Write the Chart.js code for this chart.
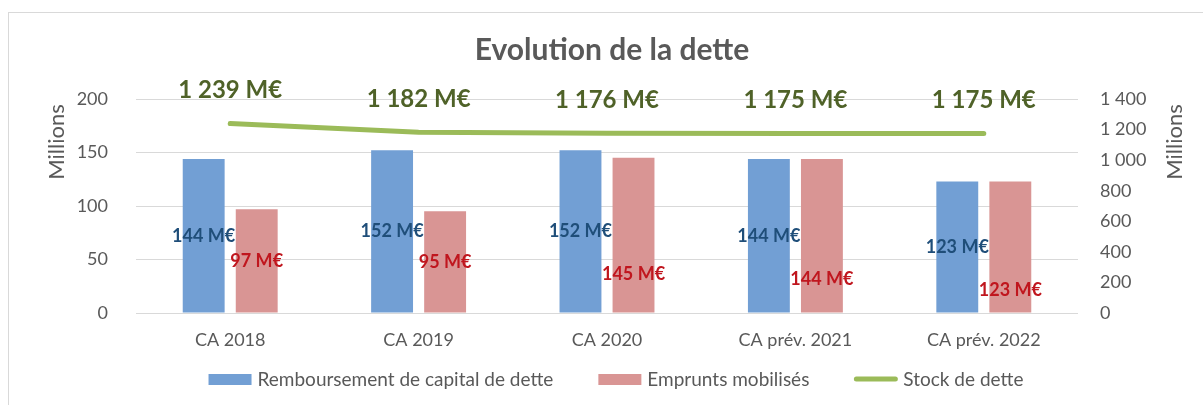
<!DOCTYPE html>
<html>
<head>
<meta charset="utf-8">
<script src="https://cdn.jsdelivr.net/npm/chart.js@4.4.1/dist/chart.umd.min.js"></script>
<style>
  html, body { margin: 0; background: #fff; }
  canvas { display: block; }
</style>
</head>
<body>
<canvas id="chart" width="1203" height="405"></canvas>
<script>
// données du graphique
const categories = ['CA 2018', 'CA 2019', 'CA 2020', 'CA prév. 2021', 'CA prév. 2022'];
const remboursement = [144, 152, 152, 144, 123];
const emprunts = [97, 95, 145, 144, 123];
const stock = [1239, 1182, 1176, 1175, 1175];
const seriesNames = ['Remboursement de capital de dette', 'Emprunts mobilisés', 'Stock de dette'];
const leftTicks = [0, 50, 100, 150, 200];
const rightTicks = [0, 200, 400, 600, 800, 1000, 1200, 1400];

const GREY = '#595959';
const fmt = n => String(n).replace(/\B(?=(\d{3})+(?!\d))/g, ' ');

// titre, cadre, titres d'axes, légende
const decor = {
    id: 'decor',
    beforeDraw(chart) {
        const ctx = chart.ctx;
        ctx.save();
        ctx.strokeStyle = '#D9D9D9';
        ctx.lineWidth = 1;
        ctx.strokeRect(8.5, 12.5, 1400, 600);
        ctx.restore();
    },
    afterDraw(chart) {
        const ctx = chart.ctx;
        ctx.save();
        ctx.fillStyle = GREY;
        ctx.textAlign = 'center';
        ctx.textBaseline = 'middle';
        ctx.font = 'bold 30px Lato';
        ctx.fillText('Evolution de la dette', 612, 50);

        ctx.font = '22px Lato';
        [[57, 142], [1175, 142]].forEach(([x, y]) => {
            ctx.save();
            ctx.translate(x, y);
            ctx.rotate(-Math.PI / 2);
            ctx.fillText('Millions', 0, 0);
            ctx.restore();
        });

        // légende
        ctx.font = '19px Lato';
        ctx.textAlign = 'left';
        const items = chart.data.datasets;
        const sw = 43, gapT = 6, gapI = 45;
        const widths = items.map(d => sw + gapT + ctx.measureText(d.label).width);
        const total = widths.reduce((a, b) => a + b, 0) + gapI * (items.length - 1);
        let x = 616 - total / 2;
        const y = 380;
        items.forEach((d, i) => {
            if (d.type === 'line') {
                ctx.strokeStyle = d.borderColor;
                ctx.lineWidth = 5;
                ctx.lineCap = 'round';
                ctx.beginPath();
                ctx.moveTo(x + 2, y - 1);
                ctx.lineTo(x + sw - 2, y - 1);
                ctx.stroke();
            } else {
                ctx.fillStyle = d.backgroundColor;
                ctx.fillRect(x, y - 6, sw, 11);
            }
            ctx.fillStyle = GREY;
            ctx.fillText(d.label, x + sw + gapT, y);
            x += widths[i] + gapI;
        });
        ctx.restore();
    }
};

// étiquettes de valeurs
const valueLabels = {
    id: 'valueLabels',
    afterDatasetsDraw(chart) {
        const ctx = chart.ctx;
        const blue = chart.getDatasetMeta(0).data;
        const red = chart.getDatasetMeta(1).data;
        const line = chart.getDatasetMeta(2).data;
        ctx.save();
        ctx.textAlign = 'center';
        ctx.textBaseline = 'middle';
        ctx.font = 'bold 18px Lato';
        blue.forEach((bar, i) => {
            const by = (bar.y + bar.base) / 2;
            ctx.fillStyle = '#1F4E79';
            ctx.fillText(remboursement[i] + ' M€', bar.x, by);
            const r = red[i];
            let ry = (r.y + r.base) / 2;
            if (Math.abs(ry - by) < 20) ry = by + 43; // évite le chevauchement
            ctx.fillStyle = '#C0161E';
            ctx.fillText(emprunts[i] + ' M€', r.x, ry);
        });
        ctx.font = 'bold 24px Lato';
        ctx.fillStyle = '#4F6228';
        line.forEach((p, i) => ctx.fillText(fmt(stock[i]) + ' M€', p.x, p.y - 33));
        ctx.restore();
    }
};

const tickFont = { family: 'Lato', size: 18 };

new Chart(document.getElementById('chart'), {
    data: {
        labels: categories,
        datasets: [{
            type: 'bar',
            label: seriesNames[0],
            data: remboursement,
            backgroundColor: '#729FD4',
            yAxisID: 'y',
            barPercentage: 0.79,
            categoryPercentage: 0.563,
            order: 1
        }, {
            type: 'bar',
            label: seriesNames[1],
            data: emprunts,
            backgroundColor: '#D99594',
            yAxisID: 'y',
            barPercentage: 0.79,
            categoryPercentage: 0.563,
            order: 1
        }, {
            type: 'line',
            label: seriesNames[2],
            data: stock,
            borderColor: '#9BBB59',
            borderWidth: 5,
            borderCapStyle: 'round',
            pointRadius: 0,
            tension: 0,
            yAxisID: 'y1',
            order: 0
        }]
    },
    options: {
        responsive: false,
        animation: false,
        devicePixelRatio: 1,
        layout: { padding: { left: 8, top: 99, right: 0, bottom: 56 } },
        plugins: {
            legend: { display: false },
            title: { display: false },
            tooltip: { enabled: false }
        },
        scales: {
            x: {
                grid: { display: false, drawTicks: false },
                border: { display: false },
                ticks: { color: GREY, font: { family: 'Lato', size: 18 }, padding: 16, maxRotation: 0, autoSkip: false },
                afterFit(s) { s.height = 36; }
            },
            y: {
                position: 'left',
                min: leftTicks[0],
                max: leftTicks[leftTicks.length - 1],
                ticks: { stepSize: leftTicks[1] - leftTicks[0], color: GREY, font: tickFont, padding: 28 },
                grid: { color: '#D9D9D9', drawTicks: false },
                border: { display: false },
                afterFit(s) { s.width = 128; }
            },
            y1: {
                position: 'right',
                min: rightTicks[0],
                max: rightTicks[rightTicks.length - 1],
                ticks: {
                    stepSize: rightTicks[1] - rightTicks[0],
                    color: GREY,
                    font: tickFont,
                    padding: 22,
                    callback: v => fmt(v)
                },
                grid: { display: false, drawTicks: false },
                border: { display: false },
                afterFit(s) { s.width = 125; }
            }
        }
    },
    plugins: [decor, valueLabels]
});
</script>
</body>
</html>
